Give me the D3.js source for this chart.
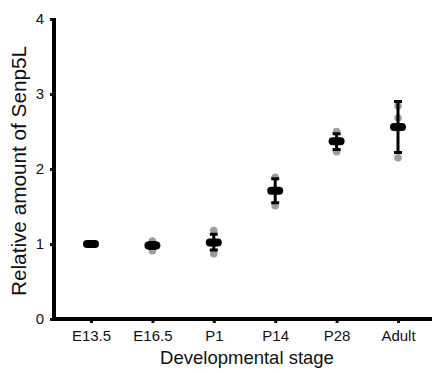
<!DOCTYPE html>
<html>
<head>
<meta charset="utf-8">
<script src="https://cdn.jsdelivr.net/npm/d3@7"></script>
<style>
  body { margin: 0; background: #fff; }
  svg { display: block; font-family: "Liberation Sans", Arial, sans-serif; }
</style>
</head>
<body>
<svg id="chart" width="432" height="373"></svg>
<script>
// data
const stages = ['E13.5', 'E16.5', 'P1', 'P14', 'P28', 'Adult'];
const means = [1.00, 0.98, 1.02, 1.71, 2.37, 2.56];
const errLow = [0.99, 0.94, 0.92, 1.55, 2.26, 2.22];
const errHigh = [1.01, 1.02, 1.13, 1.87, 2.47, 2.90];
const replicates = [
  [1.00, 1.00, 1.00],
  [1.04, 0.98, 0.91],
  [1.18, 1.01, 0.87],
  [1.89, 1.72, 1.51],
  [2.50, 2.37, 2.23],
  [2.84, 2.68, 2.15]
];
const yTicks = [0, 1, 2, 3, 4];

const svg = d3.select('#chart');

const x = d3.scalePoint()
  .domain(stages)
  .range([91, 398]);

const y = d3.scaleLinear()
  .domain([0, 4])
  .range([319, 19]);

const axisLeftX = 54;
const axisRightX = 432;

// x axis
const xAxis = d3.axisBottom(x)
  .tickSizeInner(4)
  .tickSizeOuter(0)
  .tickPadding(7);

const gx = svg.append('g')
  .attr('transform', 'translate(0,' + y(0) + ')')
  .call(xAxis);
gx.select('.domain').remove();
gx.selectAll('.tick line').attr('stroke', '#111').attr('stroke-width', 3);
gx.selectAll('.tick text')
  .attr('fill', '#111')
  .style('font-size', '15px');

// y axis
const yAxis = d3.axisLeft(y)
  .tickValues(yTicks)
  .tickFormat(d3.format('d'))
  .tickSizeInner(3)
  .tickSizeOuter(0)
  .tickPadding(6);

const gy = svg.append('g')
  .attr('transform', 'translate(' + (axisLeftX - 1) + ',0)')
  .call(yAxis);
gy.select('.domain').remove();
gy.selectAll('.tick line').attr('stroke', '#111').attr('stroke-width', 3);
gy.selectAll('.tick text')
  .attr('fill', '#111')
  .style('font-size', '15px');

// thick axis lines
svg.append('line')
  .attr('x1', axisLeftX).attr('x2', axisLeftX)
  .attr('y1', y(4) - 1).attr('y2', y(0) + 2)
  .attr('stroke', '#000').attr('stroke-width', 4);
svg.append('line')
  .attr('x1', axisLeftX - 2).attr('x2', axisRightX)
  .attr('y1', y(0)).attr('y2', y(0))
  .attr('stroke', '#000').attr('stroke-width', 4);

// replicate points
const pts = [];
stages.forEach((s, i) => replicates[i].forEach(v => pts.push({ s, v })));

svg.append('g')
  .selectAll('circle')
  .data(pts)
  .enter().append('circle')
  .attr('cx', d => x(d.s))
  .attr('cy', d => y(d.v))
  .attr('r', 3.8)
  .attr('fill', '#9d9d9d');

// error bars
const eb = svg.append('g')
  .selectAll('g')
  .data(stages)
  .enter().append('g');

eb.append('line')
  .attr('x1', d => x(d)).attr('x2', d => x(d))
  .attr('y1', (d, i) => y(errLow[i]))
  .attr('y2', (d, i) => y(errHigh[i]))
  .attr('stroke', '#000').attr('stroke-width', 3);

eb.append('line')
  .attr('x1', d => x(d) - 4).attr('x2', d => x(d) + 4)
  .attr('y1', (d, i) => y(errHigh[i]))
  .attr('y2', (d, i) => y(errHigh[i]))
  .attr('stroke', '#000').attr('stroke-width', 3);

eb.append('line')
  .attr('x1', d => x(d) - 4).attr('x2', d => x(d) + 4)
  .attr('y1', (d, i) => y(errLow[i]))
  .attr('y2', (d, i) => y(errLow[i]))
  .attr('stroke', '#000').attr('stroke-width', 3);

// mean markers
eb.append('rect')
  .attr('x', d => x(d) - 8)
  .attr('y', (d, i) => y(means[i]) - 4)
  .attr('width', 16)
  .attr('height', 8)
  .attr('rx', 4)
  .attr('fill', '#000');

// axis titles
svg.append('text')
  .attr('x', 247)
  .attr('y', 364)
  .attr('text-anchor', 'middle')
  .attr('fill', '#111')
  .style('font-size', '18.5px')
  .text('Developmental stage');

svg.append('text')
  .attr('transform', 'translate(26,171) rotate(-90)')
  .attr('text-anchor', 'middle')
  .attr('fill', '#111')
  .style('font-size', '19.5px')
  .attr('textLength', 250)
  .attr('lengthAdjust', 'spacingAndGlyphs')
  .text('Relative amount of Senp5L');
</script>
</body>
</html>
